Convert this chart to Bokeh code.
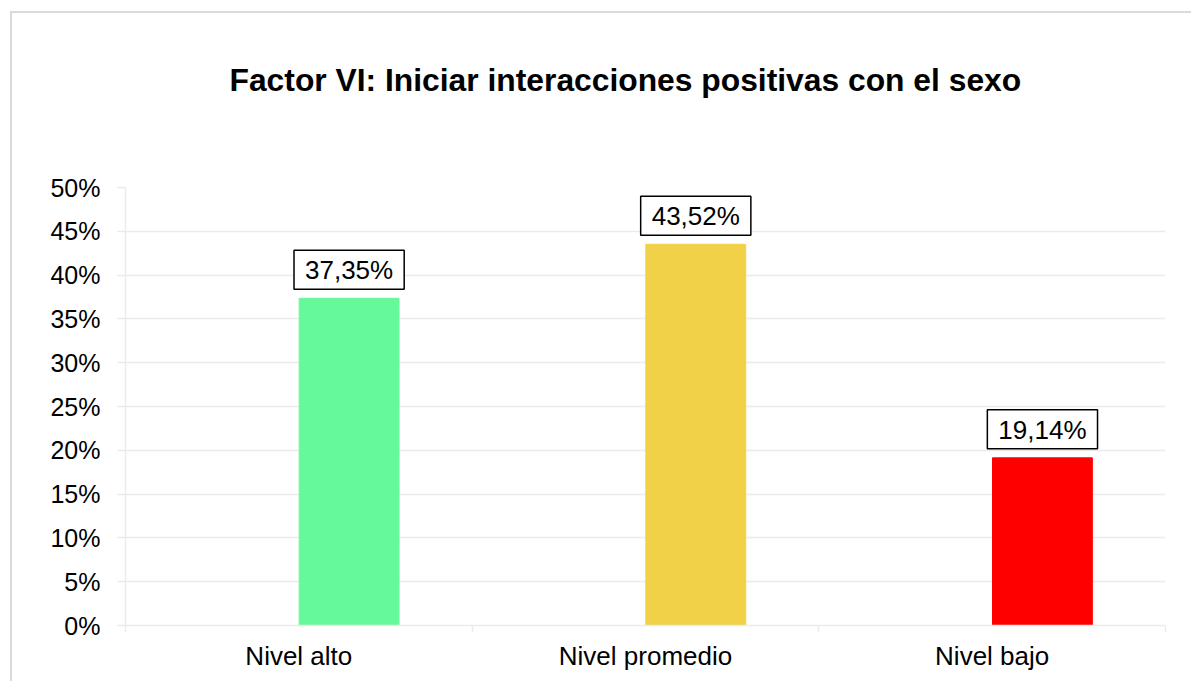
from bokeh.plotting import figure
from bokeh.models import ColumnDataSource, FixedTicker, PrintfTickFormatter, Range1d
from bokeh.transform import dodge
from bokeh.core.properties import value
from bokeh.embed import file_html
from bokeh.resources import INLINE

categories = ["Nivel alto", "Nivel promedio", "Nivel bajo"]
values = [37.35, 43.52, 19.14]
colors = ["#66F99A", "#F0D147", "#FF0000"]
y_ticks = [0, 5, 10, 15, 20, 25, 30, 35, 40, 45, 50]
title_text = "Factor VI: Iniciar interacciones positivas con el sexo"

FONT = "Liberation Sans"
GRID = "#EBEBEB"

src = ColumnDataSource(dict(
    x=[i + 0.5 for i in range(len(categories))],
    top=values,
    color=colors,
    label=[f"{v:.2f}".replace(".", ",") + "%" for v in values],
))

W, H = 1181, 670
p = figure(width=W, height=H, output_backend="svg", toolbar_location=None,
           x_range=Range1d(0, len(categories)), y_range=Range1d(0, 50),
           min_border_left=113, min_border_right=28,
           min_border_top=174, min_border_bottom=58)
p.margin = (11, 0, 0, 10)
p.styles = {"border-top": "2px solid #D9D9D9", "border-left": "2px solid #D9D9D9"}
p.outline_line_color = None
p.background_fill_color = "white"
p.border_fill_color = "white"

# trailing blank lines lift the title away from the plot area
p.title.text = title_text + "\n\n"
p.title.align = "left"
p.title.offset = 104
p.title.standoff = 36
p.title.text_font = FONT
p.title.text_font_size = "31.8px"
p.title.text_font_style = "bold"
p.title.text_color = "black"

p.vbar(x=dodge("x", 0.145), top="top", width=0.288, bottom=0, color="color", source=src)

p.text(x=dodge("x", 0.145), y="top", text="label", source=src,
       text_align="center", text_baseline="bottom", y_offset=-9,
       text_font=value(FONT), text_font_size="26px", text_color="black",
       padding=dict(left=11, right=11, top=5, bottom=4),
       border_line_color="black", border_line_width=1.5,
       background_fill_color="white")

# axes
xa = p.xaxis[0]
xa.ticker = FixedTicker(ticks=[i + 0.5 for i in range(len(categories))],
                        minor_ticks=list(range(len(categories) + 1)))
xa.major_label_overrides = {i + 0.5: c for i, c in enumerate(categories)}
xa.major_tick_out = 0
xa.major_tick_in = 0
xa.minor_tick_out = 7
xa.minor_tick_in = 0
xa.minor_tick_line_color = GRID
xa.minor_tick_line_width = 1.5
xa.axis_line_color = GRID
xa.axis_line_width = 1.5
xa.major_label_text_font = FONT
xa.major_label_text_font_size = "26px"
xa.major_label_text_color = "black"
xa.major_label_standoff = 8

ya = p.yaxis[0]
ya.ticker = FixedTicker(ticks=y_ticks)
ya.formatter = PrintfTickFormatter(format="%d%%")
ya.major_tick_out = 8
ya.major_tick_in = 0
ya.minor_tick_line_color = None
ya.major_tick_line_color = GRID
ya.major_tick_line_width = 1.5
ya.axis_line_color = GRID
ya.axis_line_width = 1.5
ya.major_label_text_font = FONT
ya.major_label_text_font_size = "25px"
ya.major_label_text_color = "black"
ya.major_label_standoff = 17

p.xgrid.grid_line_color = None
p.ygrid.grid_line_color = GRID
p.ygrid.grid_line_width = 1.5

open("out.html", "w").write(file_html(p, INLINE))
